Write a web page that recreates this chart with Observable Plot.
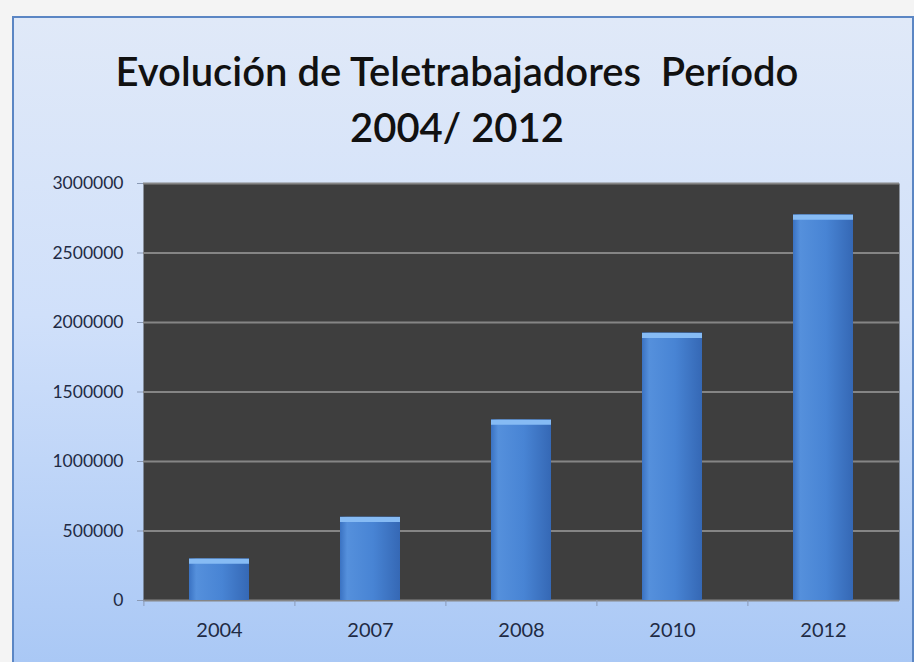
<!DOCTYPE html>
<html><head><meta charset="utf-8">
<script src="https://cdn.jsdelivr.net/npm/d3@7"></script>
<script src="https://cdn.jsdelivr.net/npm/@observablehq/plot@0.6"></script>
<style>
html,body{margin:0;padding:0;width:914px;height:662px;overflow:hidden;background:#f4f4f4;}
#box{position:absolute;left:12px;top:16px;width:898px;height:660px;border:2px solid #5b86c4;
 background:linear-gradient(to bottom,#e0e9f8 0%,#d0e0fa 45%,#a8c7f5 100%);}
#title{position:absolute;left:0;width:914px;top:43px;text-align:center;font-family:Lato,sans-serif;font-weight:600;font-size:40px;line-height:56px;color:#111;letter-spacing:0px;}
#plot{position:absolute;left:0;top:160px;}
#plot svg g[aria-label="y-axis tick label"] text{font-size:17.5px;}
#plot svg g[aria-label="x-axis tick label"] text{font-size:20px;}
</style></head>
<body>
<div id="box"></div>
<div id="title">Evolución de Teletrabajadores&nbsp; Período<br>2004/ 2012</div>
<div id="plot"></div>
<script>
const years = ["2004", "2007", "2008", "2010", "2012"];
const teleworkers = [300000, 600000, 1300000, 1925000, 2775000];
const yTicks = [0, 500000, 1000000, 1500000, 2000000, 2500000, 3000000];
const data = years.map((y, i) => ({year: y, value: teleworkers[i]}));

const chart = Plot.plot({
  width: 914, height: 502,
  marginTop: 23, marginBottom: 62, marginLeft: 143, marginRight: 15,
  style: {background: "transparent", fontFamily: "Lato, sans-serif", fontSize: "17px", color: "#1f2b44"},
  x: {domain: years, paddingInner: 0.6, paddingOuter: 0.3, label: null},
  y: {domain: [0, 3000000], label: null},
  marks: [
    Plot.frame({fill: "#3e3e3e", stroke: null}),
    Plot.ruleY(yTicks, {stroke: "#858585", strokeWidth: 2}),
    Plot.barY(data, {x: "year", y: "value", fill: "url(#barGrad)"}),
    Plot.tickY(data, {x: "year", y: "value", stroke: "#86bbf4", strokeWidth: 5, dy: 2.5}),
    Plot.axisY({ticks: yTicks, tickFormat: d => String(d), tickSize: 6, tickPadding: 14, stroke: "#8a9ab5"}),
    Plot.axisX({tickSize: 6, tickFormat: () => "", dx: -75.6, stroke: "#8a9ab5"}),
    Plot.axisX({tickSize: 0, tickPadding: 22})
  ]
});
const svgNS = "http://www.w3.org/2000/svg";
const defs = document.createElementNS(svgNS, "defs");
defs.innerHTML = `<linearGradient id="barGrad" x1="0" x2="1" y1="0" y2="0">
<stop offset="0%" stop-color="#3a72c2"/><stop offset="12%" stop-color="#5590dc"/>
<stop offset="55%" stop-color="#4884d4"/><stop offset="100%" stop-color="#3568b5"/></linearGradient>`;
chart.insertBefore(defs, chart.firstChild);
document.getElementById("plot").appendChild(chart);
</script>
</body></html>
